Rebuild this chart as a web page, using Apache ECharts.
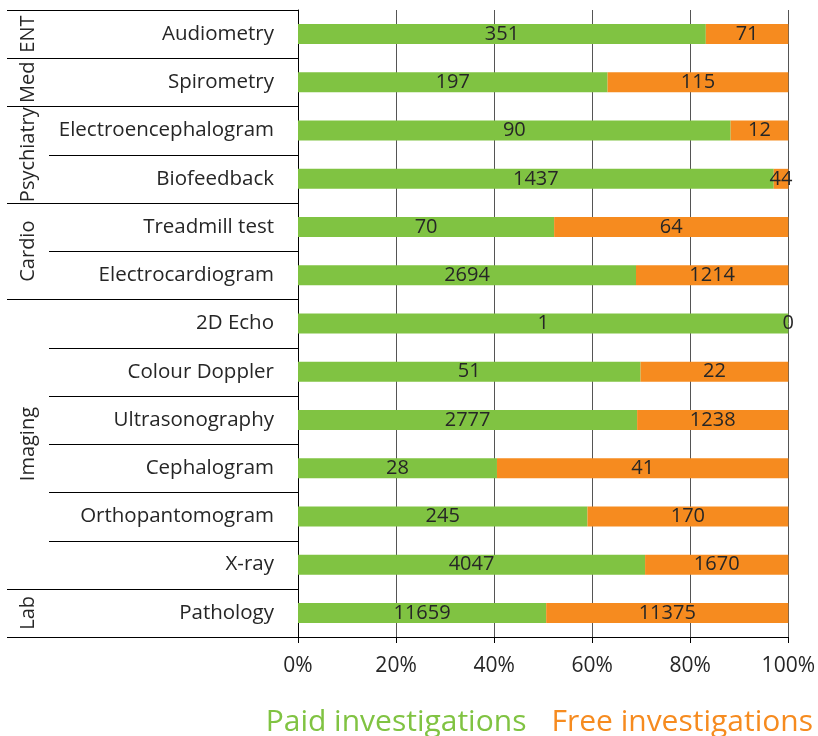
<!DOCTYPE html>
<html>
<head>
<meta charset="utf-8">
<script src="https://cdn.jsdelivr.net/npm/echarts@6/dist/echarts.min.js"></script>
<style>
  html, body { margin: 0; padding: 0; background: #fff; }
  #chart { width: 818px; height: 736px; }
</style>
</head>
<body>
<div id="chart"></div>
<script>
const categories = ["Audiometry", "Spirometry", "Electroencephalogram", "Biofeedback",
  "Treadmill test", "Electrocardiogram", "2D Echo", "Colour Doppler", "Ultrasonography",
  "Cephalogram", "Orthopantomogram", "X-ray", "Pathology"];
const paid = [351, 197, 90, 1437, 70, 2694, 1, 51, 2777, 28, 245, 4047, 11659];
const free = [71, 115, 12, 44, 64, 1214, 0, 22, 1238, 41, 170, 1670, 11375];
// group name, first row, row count
const groups = [["ENT", 0, 1], ["Med", 1, 1], ["Psychiatry", 2, 2], ["Cardio", 4, 2],
  ["Imaging", 6, 6], ["Lab", 12, 1]];
const xTicks = [0, 20, 40, 60, 80, 100];

const GREEN = "#80c342";
const ORANGE = "#f68b1f";
const FONT = "Open Sans";

const paidPct = paid.map((v, i) => v / (v + free[i]) * 100);
const freePct = free.map((v, i) => v / (paid[i] + v) * 100);

const chart = echarts.init(document.getElementById("chart"));

const labelStyle = (raw) => ({
  show: true,
  position: "inside",
  color: "#262626",
  fontFamily: FONT,
  fontSize: 20,
  formatter: (p) => String(raw[p.dataIndex]),
});

chart.setOption({
  backgroundColor: "#fff",
  animation: false,
  textStyle: { fontFamily: FONT },
  grid: { left: 298, right: 29, top: 10, bottom: 99 },
  legend: {
    top: 702,
    right: 0,
    icon: "none",
    itemWidth: 0,
    itemHeight: 0,
    itemGap: 20,
    textStyle: { fontSize: 30, fontFamily: FONT },
    data: [
      { name: "Paid investigations", textStyle: { color: GREEN } },
      { name: "Free investigations", textStyle: { color: ORANGE } },
    ],
  },
  xAxis: {
    type: "value",
    min: 0,
    max: 100,
    interval: 20,
    axisLine: { show: true, lineStyle: { color: "#000", width: 1 } },
    axisTick: { show: true, length: 6, lineStyle: { color: "#000" } },
    splitLine: { show: true, lineStyle: { color: "#555", width: 1 } },
    axisLabel: {
      color: "#262626",
      fontSize: 21,
      margin: 19,
      formatter: (v) => xTicks.includes(v) ? v + "%" : "",
    },
  },
  yAxis: {
    type: "category",
    inverse: true,
    data: categories,
    axisLine: { show: true, lineStyle: { color: "#000", width: 1 } },
    axisTick: { show: false },
    axisLabel: { color: "#262626", fontSize: 20.5, margin: 24 },
  },
  series: [
    {
      name: "Paid investigations",
      type: "bar",
      stack: "total",
      barWidth: 20,
      itemStyle: { color: GREEN },
      label: labelStyle(paid),
      data: paidPct,
    },
    {
      name: "Free investigations",
      type: "bar",
      stack: "total",
      barWidth: 20,
      itemStyle: { color: ORANGE },
      label: labelStyle(free),
      data: freePct,
    },
  ],
});

// group column: separator lines and rotated group names, placed from the category axis
function drawGroups() {
  const y0 = chart.convertToPixel({ yAxisIndex: 0 }, 0);
  const y1 = chart.convertToPixel({ yAxisIndex: 0 }, 1);
  const band = y1 - y0;
  const axisX = chart.convertToPixel({ xAxisIndex: 0 }, 0);
  const edge = (i) => y0 - band / 2 + i * band;
  const elements = [];
  const line = (x1, y) => ({
    type: "line",
    shape: { x1: x1, y1: Math.round(y) + 0.5, x2: axisX, y2: Math.round(y) + 0.5 },
    style: { stroke: "#000", lineWidth: 1 },
    silent: true,
  });
  elements.push(line(7, edge(0)));
  groups.forEach(([name, start, count]) => {
    elements.push(line(7, edge(start + count)));
    for (let k = 1; k < count; k++) elements.push(line(49, edge(start + k)));
    const cy = (edge(start) + edge(start + count)) / 2;
    elements.push({
      type: "text",
      x: 28,
      y: cy,
      rotation: Math.PI / 2,
      style: {
        text: name,
        fill: "#262626",
        font: "20px " + FONT,
        align: "center",
        verticalAlign: "middle",
      },
      silent: true,
    });
  });
  chart.setOption({ graphic: { elements: elements } });
}
drawGroups();
</script>
</body>
</html>
